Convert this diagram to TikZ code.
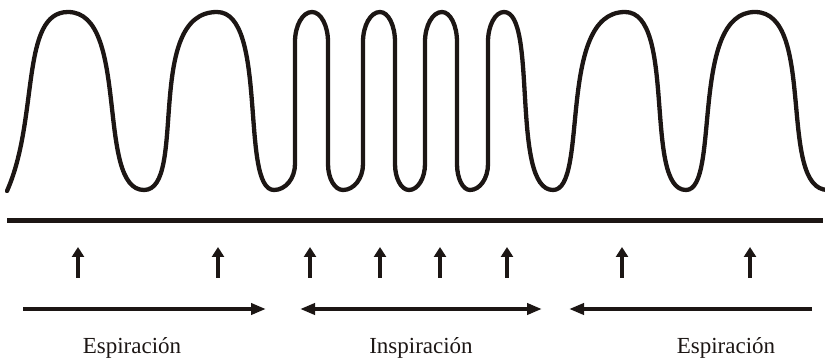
\documentclass[tikz,border=0pt]{standalone}
\usepackage{fontspec}
\setmainfont{Liberation Serif}
\usetikzlibrary{arrows.meta}
\definecolor{ink}{RGB}{28,22,20}
\begin{document}
\begin{tikzpicture}[x=1pt,y=-1pt,
  wave/.style={draw=ink,line width=4.3pt,line cap=round,line join=round},
  bar/.style={draw=ink,line width=4.6pt},
  uparrow/.style={draw=ink,line width=4pt,-{Triangle[length=10pt,width=12pt]}},
  harrow/.style={draw=ink,line width=4pt,-{Triangle[length=15pt,width=11pt]}},
  hdarrow/.style={draw=ink,line width=4pt,{Triangle[length=15pt,width=11pt]}-{Triangle[length=15pt,width=11pt]}},
  lbl/.style={text=ink,font=\fontsize{23}{27}\selectfont,anchor=base}]
\useasboundingbox (0,0) rectangle (825,358);
% wave
\draw[wave] (7,191) .. controls (39,119) and (20,12) .. (68,12)
  .. controls (130.3,12) and (95.4,190) .. (144,190)
  .. controls (187.8,190) and (144,12) .. (217,12)
  .. controls (268.3,12) and (239.8,190) .. (274,190)
  .. controls (285.6,190) and (295,178.4) .. (295,164) -- (295,42)
  .. controls (295,25.4) and (302.6,12) .. (312,12)
  .. controls (320.8,12) and (328,25.4) .. (328,42) -- (328,164)
  .. controls (328,178.4) and (334.7,190) .. (343,190)
  .. controls (354,190) and (363,178.4) .. (363,164) -- (363,42)
  .. controls (363,25.4) and (370.6,12) .. (380,12)
  .. controls (388.3,12) and (395,25.4) .. (395,42) -- (395,164)
  .. controls (395,178.4) and (401.3,190) .. (409,190)
  .. controls (417.8,190) and (425,178.4) .. (425,164) -- (425,42)
  .. controls (425,25.4) and (432.6,12) .. (442,12)
  .. controls (450.3,12) and (457,25.4) .. (457,42) -- (457,164)
  .. controls (457,178.4) and (462.8,190) .. (470,190)
  .. controls (479.9,190) and (488,178.4) .. (488,164) -- (488,42)
  .. controls (488,25.4) and (495.2,12) .. (504,12)
  .. controls (537.8,12) and (510.4,190) .. (553,190)
  .. controls (589,190) and (556.6,12) .. (625,12)
  .. controls (676.9,12) and (643.3,190) .. (686,190)
  .. controls (720.5,190) and (689.5,12) .. (755,12)
  .. controls (817,12) and (776.9,190) .. (828,190);
% baseline bar
\coordinate (barL) at (7,220.5);
\coordinate (barR) at (823,220.5);
\draw[bar] (barL) -- (barR);
% up arrows
\foreach \i/\x in {1/78,2/218,3/310,4/380,5/440,6/507,7/622,8/750}{
  \coordinate (u\i a) at (\x,278);
  \coordinate (u\i b) at (\x,247);
  \draw[uparrow] (u\i a) -- (u\i b);
}
% horizontal arrows
\coordinate (e1a) at (23,309);
\coordinate (e1b) at (266,309);
\coordinate (i1a) at (300,309);
\coordinate (i1b) at (542,309);
\coordinate (e2a) at (812,309);
\coordinate (e2b) at (569,309);
\draw[harrow] (e1a) -- (e1b);
\draw[hdarrow] (i1a) -- (i1b);
\draw[harrow] (e2a) -- (e2b);
% labels
\node[lbl] (esp1) at (132,353) {Espiración};
\node[lbl] (insp) at (421,353) {Inspiración};
\node[lbl] (esp2) at (726,353) {Espiración};
\end{tikzpicture}
\end{document}
